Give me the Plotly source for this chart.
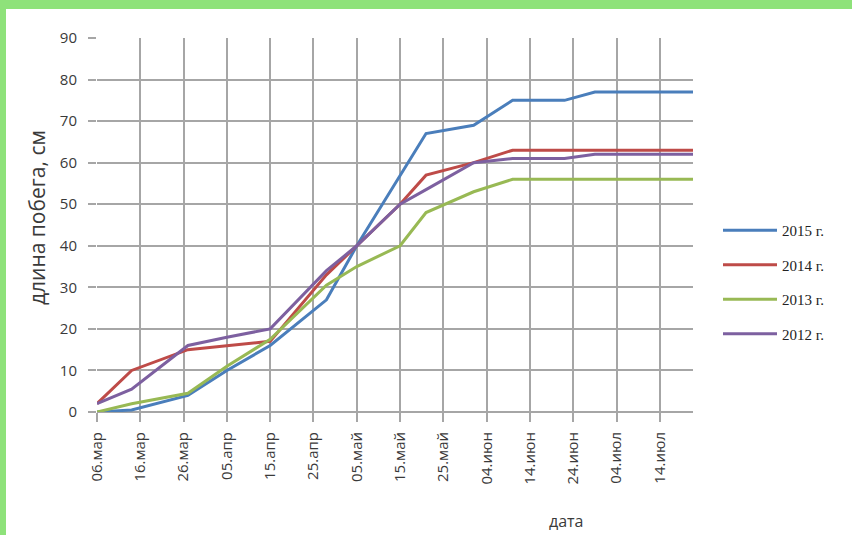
import plotly.graph_objects as go

dates = ["2015-03-06", "2015-03-14", "2015-03-27", "2015-04-05", "2015-04-15",
         "2015-04-28", "2015-05-05", "2015-05-15", "2015-05-21", "2015-06-01",
         "2015-06-10", "2015-06-22", "2015-06-29", "2015-07-22"]

y2015 = [0, 0.5, 4, 10, 16, 27, 40, 57, 67, 69, 75, 75, 77, 77]
y2014 = [2, 10, 15, 16, 17, 33, 40, 50, 57, 60, 63, 63, 63, 63]
y2013 = [0, 2, 4.5, 11, 17.5, 30.5, 35, 40, 48, 53, 56, 56, 56, 56]
y2012 = [2, 5.5, 16, 18, 20, 34, 40, 50, 53.5, 60, 61, 61, 62, 62]

series_names = ["2015 г.", "2014 г.", "2013 г.", "2012 г."]
series_values = [y2015, y2014, y2013, y2012]
colors = ["#4A7EBB", "#BE4B48", "#98B954", "#7D60A0"]

tick_vals = ["2015-03-06", "2015-03-16", "2015-03-26", "2015-04-05", "2015-04-15",
             "2015-04-25", "2015-05-05", "2015-05-15", "2015-05-25", "2015-06-04",
             "2015-06-14", "2015-06-24", "2015-07-04", "2015-07-14"]
tick_text = ["06.мар", "16.мар", "26.мар", "05.апр", "15.апр", "25.апр", "05.май",
             "15.май", "25.май", "04.июн", "14.июн", "24.июн", "04.июл", "14.июл"]

fig = go.Figure()
for i, (name, vals) in enumerate(zip(series_names, series_values)):
    fig.add_trace(go.Scatter(
        x=dates, y=vals, mode="lines", name=name, legendgroup=name,
        line=dict(color=colors[i], width=3),
    ))

W, H = 852, 535
L, R, T, B = 97, 159, 38, 123
pw, ph = W - L - R, H - T - B

def px_x(px):
    return (px - L) / pw

def px_y(py):
    return (H - B - py) / ph

fig.update_layout(
    width=W, height=H,
    margin=dict(l=L, r=R, t=T, b=B, autoexpand=False),
    paper_bgcolor="white", plot_bgcolor="white",
    font=dict(family="Open Sans", color="#3A3A3A", size=13),
    showlegend=True,
    legend=dict(
        x=px_x(718), y=px_y(214), xanchor="left", yanchor="top",
        font=dict(family="Liberation Serif", size=15, color="#222222"),
        tracegroupgap=12, itemwidth=54, bgcolor="rgba(0,0,0,0)",
    ),
    xaxis=dict(
        type="date", range=["2015-03-06", "2015-07-21 16:00"],
        tickvals=tick_vals, ticktext=tick_text, tickangle=-90,
        showgrid=True, gridcolor="#A6A6A6", gridwidth=1.5,
        ticks="outside", ticklen=9, tickcolor="#A6A6A6", tickwidth=1.5,
        ticklabelstandoff=4,
        showline=False, zeroline=False,
        tickfont=dict(family="Open Sans", size=15, color="#3A3A3A"),
    ),
    yaxis=dict(
        range=[0, 90], dtick=10, tick0=0,
        showgrid=True, gridcolor="#A6A6A6", gridwidth=1.5,
        ticks="outside", ticklen=8, tickcolor="#A6A6A6", tickwidth=1.5,
        ticklabelstandoff=8,
        showline=False, zeroline=True, zerolinecolor="#A6A6A6", zerolinewidth=1.5,
        tickfont=dict(family="Open Sans", size=15, color="#3A3A3A"),
    ),
    shapes=[
        dict(type="rect", xref="paper", yref="paper",
             x0=px_x(0), x1=px_x(W), y0=px_y(9), y1=px_y(0),
             fillcolor="#8EE27A", line=dict(width=0), layer="above"),
        dict(type="rect", xref="paper", yref="paper",
             x0=px_x(0), x1=px_x(6), y0=px_y(H), y1=px_y(0),
             fillcolor="#8EE27A", line=dict(width=0), layer="above"),
    ],
    annotations=[
        dict(text="длина побега, см", xref="paper", yref="paper",
             x=px_x(37), y=px_y(218), textangle=-90, showarrow=False,
             font=dict(family="Open Sans", size=21, color="#3A3A3A"),
             xanchor="center", yanchor="middle"),
        dict(text="дата", xref="paper", yref="paper",
             x=px_x(566), y=px_y(521), showarrow=False,
             font=dict(family="Open Sans", size=16, color="#3A3A3A"),
             xanchor="center", yanchor="middle"),
    ],
)

fig.write_html("out.html",
               config={"displayModeBar": False},
               post_script="document.body.style.margin='0';document.body.style.overflow='hidden';")
